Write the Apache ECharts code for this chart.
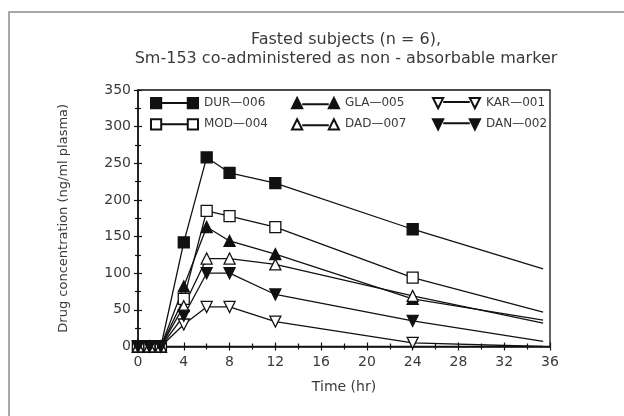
<!DOCTYPE html>
<html><head><meta charset="utf-8">
<script src="https://cdn.jsdelivr.net/npm/echarts@6/dist/echarts.min.js"></script>
<style>html,body{margin:0;padding:0;background:#fff}#c{width:624px;height:416px}</style>
</head><body><div id="c"></div>
<script>
// Sampling times (hr); last entry is where the drawn lines stop (no marker)
const times = [0, 1, 2, 4, 6, 8, 12, 24, 35.4];
const DUR_006 = [0, 0, 0, 142, 258, 237, 223, 160, 106];
const MOD_004 = [0, 0, 0, 65, 185, 178, 163, 94, 47];
const GLA_005 = [0, 0, 0, 82, 163, 144, 126, 65, 36];
const DAD_007 = [0, 0, 0, 55, 120, 120, 112, 69, 32];
const KAR_001 = [0, 0, 0, 30, 54, 54, 34, 5, 0];
const DAN_002 = [0, 0, 0, 42, 100, 100, 71, 35, 7];
const xTicks = [0, 4, 8, 12, 16, 20, 24, 28, 32, 36];
const yTicks = [0, 50, 100, 150, 200, 250, 300, 350];
const titleLines = ['Fasted subjects (n = 6),', 'Sm-153 co-administered as non - absorbable marker'];

const FONT = 'DejaVu Sans';
const TXT = '#3a3a3a';

const sq = 'path://M0 0h10v10h-10Z M10 5L36 5 M36 0h10v10h-10Z';
const up = 'path://M5 0L10 10L0 10Z M10 6L36 6 M41 0L46 10L36 10Z';
const dn = 'path://M0 0L10 0L5 10Z M10 4L36 4 M36 0L46 0L41 10Z';

const defs = [
  {name: 'DUR—006', data: DUR_006, symbol: 'rect', rot: 0, fill: '#111', icon: sq},
  {name: 'MOD—004', data: MOD_004, symbol: 'rect', rot: 0, fill: '#fff', icon: sq},
  {name: 'GLA—005', data: GLA_005, symbol: 'triangle', rot: 0, fill: '#111', icon: up},
  {name: 'DAD—007', data: DAD_007, symbol: 'triangle', rot: 0, fill: '#fff', icon: up},
  {name: 'KAR—001', data: KAR_001, symbol: 'triangle', rot: 180, fill: '#fff', icon: dn},
  {name: 'DAN—002', data: DAN_002, symbol: 'triangle', rot: 180, fill: '#111', icon: dn}
];

const series = defs.map(d => ({
  type: 'line',
  name: d.name,
  data: d.data.map((v, i) => i === times.length - 1
    ? {value: [times[i], v], symbol: 'none'}
    : {value: [times[i], v]}),
  symbol: d.symbol,
  symbolRotate: d.rot,
  symbolSize: 11,
  showAllSymbol: true,
  lineStyle: {color: '#111', width: 1.3},
  itemStyle: {color: d.fill, borderColor: '#111', borderWidth: 1.3},
  emphasis: {disabled: true},
  animation: false,
  z: 3
}));

function legendCol(items, left) {
  return {
    orient: 'vertical', left: left, top: 97,
    itemWidth: 47, itemHeight: 11, itemGap: 9,
    data: items.map(d => ({name: d.name, icon: d.icon})),
    textStyle: {fontFamily: FONT, fontSize: 12, color: TXT, padding: [0, 0, 0, 1]},
    selectedMode: false, padding: 0
  };
}

const axisBaseX = {
  type: 'value', min: 0, max: 36, interval: 4, position: 'bottom'
};
const axisBaseY = {
  type: 'value', min: 0, max: 350, interval: 50, position: 'left'
};

const option = {
  backgroundColor: '#fff',
  animation: false,
  title: {
    text: titleLines.join('\n'),
    left: 341, top: 25, textAlign: 'center',
    textStyle: {fontFamily: FONT, fontSize: 16, fontWeight: 'normal', color: TXT, lineHeight: 19}
  },
  legend: [
    legendCol([defs[0], defs[1]], 150),
    legendCol([defs[2], defs[3]], 291),
    legendCol([defs[4], defs[5]], 432)
  ],
  grid: {left: 138, right: 74, top: 90, bottom: 69.5, show: true, borderColor: '#111', borderWidth: 1.3, backgroundColor: 'transparent'},
  xAxis: [
    Object.assign({}, axisBaseX, {
      name: 'Time (hr)', nameLocation: 'middle', nameGap: 34,
      nameTextStyle: {fontFamily: FONT, fontSize: 14, color: TXT},
      axisLine: {show: true, onZero: false, lineStyle: {color: '#111', width: 1.5}},
      axisTick: {show: true, length: 4, lineStyle: {color: '#111', width: 1.2}},
      minorTick: {show: true, splitNumber: 2, length: 3, lineStyle: {color: '#111', width: 1.2}},
      axisLabel: {fontFamily: FONT, fontSize: 14, color: TXT, margin: 9,
        formatter: v => xTicks.indexOf(v) >= 0 ? String(v) : ''},
      splitLine: {show: false}
    }),
    Object.assign({}, axisBaseX, {
      axisLine: {show: false, onZero: false},
      axisTick: {show: true, inside: true, length: 4, lineStyle: {color: '#111', width: 1.2}},
      minorTick: {show: true, splitNumber: 2, length: 3, lineStyle: {color: '#111', width: 1.2}},
      axisLabel: {show: false}, splitLine: {show: false}
    })
  ],
  yAxis: [
    Object.assign({}, axisBaseY, {
      name: 'Drug concentration (ng/ml plasma)', nameLocation: 'middle', nameGap: 68,
      nameTextStyle: {fontFamily: FONT, fontSize: 13, color: TXT},
      axisLine: {show: true, onZero: false, lineStyle: {color: '#111', width: 1.5}},
      axisTick: {show: true, length: 4, lineStyle: {color: '#111', width: 1.2}},
      minorTick: {show: true, splitNumber: 2, length: 3, lineStyle: {color: '#111', width: 1.2}},
      axisLabel: {fontFamily: FONT, fontSize: 14, color: TXT, margin: 7,
        formatter: v => yTicks.indexOf(v) >= 0 ? String(v) : ''},
      splitLine: {show: false}
    }),
    Object.assign({}, axisBaseY, {
      axisLine: {show: false, onZero: false},
      axisTick: {show: true, inside: true, length: 4, lineStyle: {color: '#111', width: 1.2}},
      minorTick: {show: true, splitNumber: 2, length: 3, lineStyle: {color: '#111', width: 1.2}},
      axisLabel: {show: false}, splitLine: {show: false}
    })
  ],
  graphic: [{
    type: 'rect', silent: true, z: 0,
    shape: {x: 9, y: 12, width: 700, height: 500},
    style: {fill: 'none', stroke: '#8a8a8a', lineWidth: 1.5}
  }],
  series: series
};

const chart = echarts.init(document.getElementById('c'), null, {renderer: 'canvas'});
chart.setOption(option);
</script>
</body></html>
